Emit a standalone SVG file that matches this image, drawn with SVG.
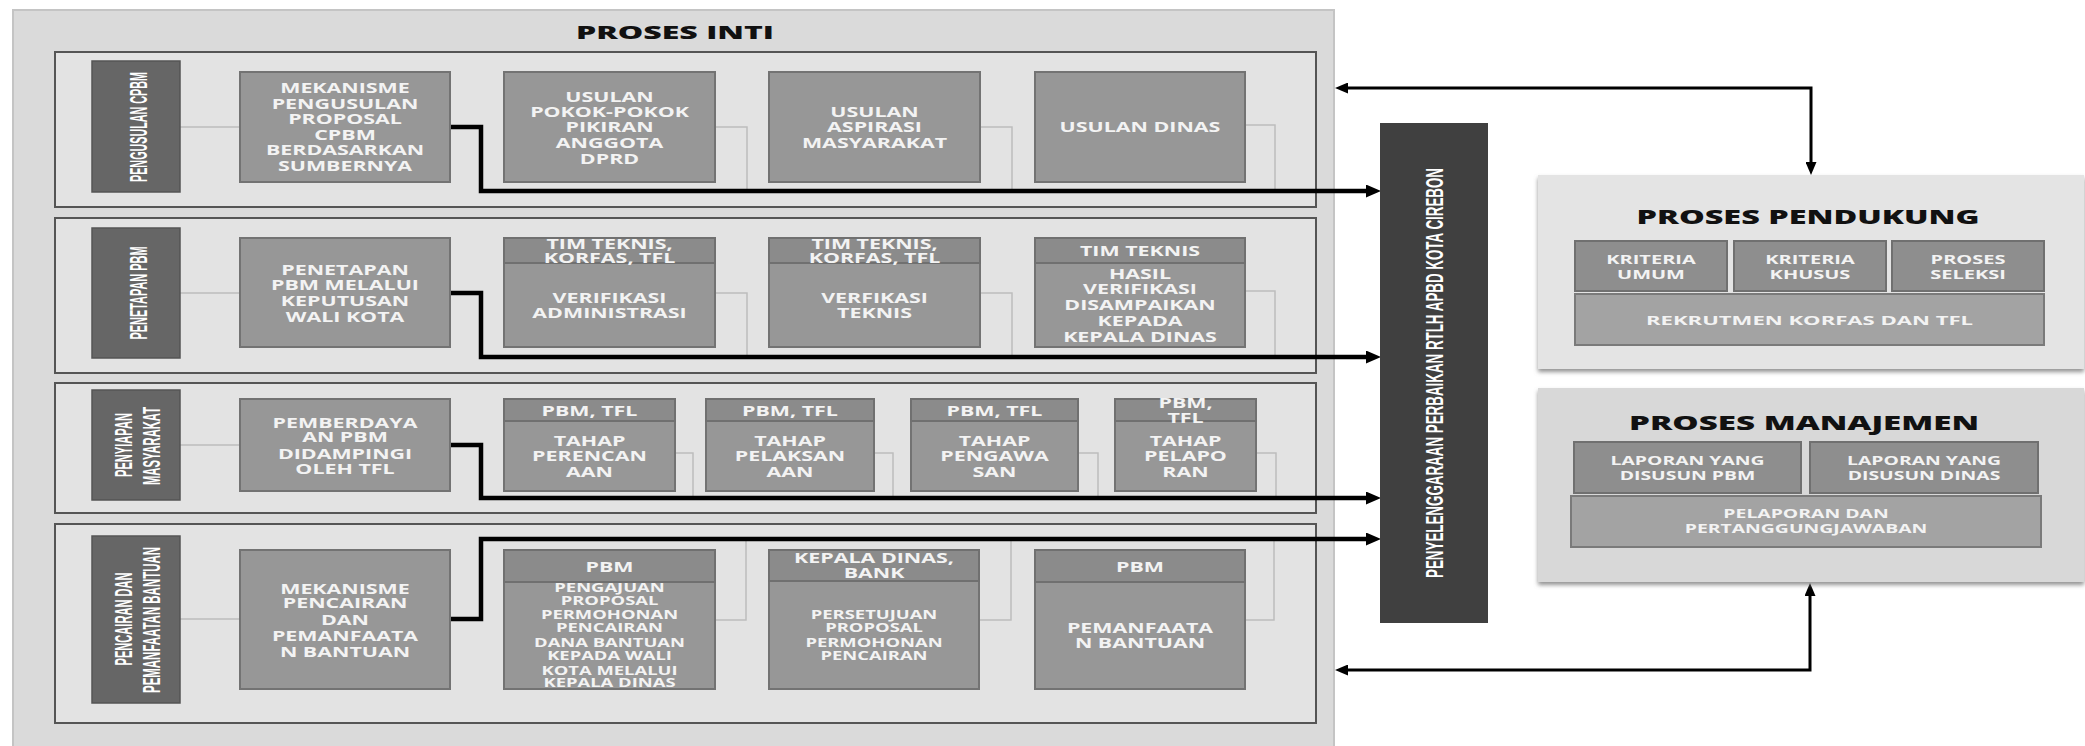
<svg xmlns="http://www.w3.org/2000/svg" width="2085" height="746" viewBox="0 0 2085 746">
<style>
.sec{fill:#e3e3e3;stroke:#555;stroke-width:2}
.lbl{fill:#666;stroke:#555;stroke-width:1.5}
.box{fill:#979797;stroke:#737373;stroke-width:2}
.hdr{fill:#8b8b8b;stroke:#707070;stroke-width:2}
.ibox{fill:#8e8e8e;stroke:#707070;stroke-width:2}
.wbox{fill:#a3a3a3;stroke:#7a7a7a;stroke-width:2}
.bt{font-family:"Open Sans","DejaVu Sans",sans-serif;font-weight:700;font-size:14px;fill:#f3f3f3;text-anchor:middle}
.bs{font-size:11.5px}
.it{font-family:"Open Sans","DejaVu Sans",sans-serif;font-weight:700;font-size:12.5px;fill:#f3f3f3;text-anchor:middle}
.lab{font-family:"Liberation Sans Narrow","Liberation Sans",sans-serif;font-weight:700;font-size:24px;fill:#fff;text-anchor:middle;dominant-baseline:central}
.ttl{font-family:"Open Sans","DejaVu Sans",sans-serif;font-weight:800;fill:#111;text-anchor:middle}
.thin{fill:none;stroke:#bdbdbd;stroke-width:1.5}
.thick{fill:none;stroke:#000;stroke-width:4.5}
.side{fill:none;stroke:#000;stroke-width:3}
</style>
<defs>
<marker id="ah" markerUnits="userSpaceOnUse" markerWidth="15" markerHeight="13" refX="4" refY="6.5" orient="auto"><path d="M0,0 L15,6.5 L0,13 z" fill="#000"/></marker>
<marker id="ah2" markerUnits="userSpaceOnUse" markerWidth="13" markerHeight="11" refX="3" refY="5.5" orient="auto-start-reverse"><path d="M0,0 L13,5.5 L0,11 z" fill="#000"/></marker>
<filter id="sh" x="-5%" y="-5%" width="110%" height="115%"><feDropShadow dx="0" dy="3" stdDeviation="2" flood-color="#777" flood-opacity="0.8"/></filter>
</defs>

<g id="proses-inti">
<rect x="13" y="10" width="1321" height="740" fill="#dadada" stroke="#c4c4c4" stroke-width="2"/>
<text class="ttl" x="675" y="39" font-size="18" textLength="198" lengthAdjust="spacingAndGlyphs">PROSES INTI</text>
</g>

<g id="sections">
<rect class="sec" x="55" y="52" width="1261" height="155"/>
<rect class="sec" x="55" y="218" width="1261" height="155"/>
<rect class="sec" x="55" y="383" width="1261" height="130"/>
<rect class="sec" x="55" y="524" width="1261" height="199"/>
</g>

<g id="connectors">
<path class="thin" d="M180,127 H240 M715,127 H747 V191 M980,127 H1012 V191 M1245,125 H1275 V191"/>
<path class="thin" d="M180,293 H240 M715,293 H747 V357 M980,293 H1012 V357 M1245,291 H1275 V357"/>
<path class="thin" d="M180,445 H240 M675,453 H693 V498 M874,453 H893 V498 M1078,453 H1098 V498 M1256,453 H1276 V498"/>
<path class="thin" d="M180,619 H240 M715,620 H746 V539 M979,620 H1011 V539 M1245,620 H1274 V539"/>
<path class="thick" d="M450,127 H481 V191 H1370" marker-end="url(#ah)"/>
<path class="thick" d="M450,293 H481 V357 H1370" marker-end="url(#ah)"/>
<path class="thick" d="M450,445 H481 V498 H1370" marker-end="url(#ah)"/>
<path class="thick" d="M450,619 H481 V539 H1370" marker-end="url(#ah)"/>
<path class="side" d="M1345,88 H1811 V165" marker-start="url(#ah2)" marker-end="url(#ah2)"/>
<path class="side" d="M1345,670 H1810 V593" marker-start="url(#ah2)" marker-end="url(#ah2)"/>
</g>

<g id="label-pengusulan">
<rect class="lbl" x="92" y="61" width="88" height="131"/>
<text class="lab" transform="translate(138,127) rotate(-90)" textLength="110" lengthAdjust="spacingAndGlyphs">PENGUSULAN CPBM</text>
</g>
<g id="label-penetapan">
<rect class="lbl" x="92" y="228" width="88" height="130"/>
<text class="lab" transform="translate(138,293) rotate(-90)" textLength="93" lengthAdjust="spacingAndGlyphs">PENETAPAN PBM</text>
</g>
<g id="label-penyiapan">
<rect class="lbl" x="92" y="390" width="88" height="110"/>
<text class="lab" transform="translate(123,445) rotate(-90)" textLength="64" lengthAdjust="spacingAndGlyphs">PENYIAPAN</text>
<text class="lab" transform="translate(151,446) rotate(-90)" textLength="78" lengthAdjust="spacingAndGlyphs">MASYARAKAT</text>
</g>
<g id="label-pencairan">
<rect class="lbl" x="92" y="536" width="88" height="167"/>
<text class="lab" transform="translate(123,619) rotate(-90)" textLength="93" lengthAdjust="spacingAndGlyphs">PENCAIRAN DAN</text>
<text class="lab" transform="translate(151,620) rotate(-90)" textLength="146" lengthAdjust="spacingAndGlyphs">PEMANFAATAN BANTUAN</text>
</g>

<!-- Row 1 -->
<g id="mekanisme-pengusulan">
<rect class="box" x="240" y="72" width="210" height="110"/>
<text class="bt" transform="translate(345,0) scale(1.53,1)"><tspan x="0" y="93">MEKANISME</tspan><tspan x="0" y="108.6">PENGUSULAN</tspan><tspan x="0" y="124.2">PROPOSAL</tspan><tspan x="0" y="139.8">CPBM</tspan><tspan x="0" y="155.4">BERDASARKAN</tspan><tspan x="0" y="171">SUMBERNYA</tspan></text>
</g>
<g id="usulan-pokok">
<rect class="box" x="504" y="72" width="211" height="110"/>
<text class="bt" transform="translate(609.5,0) scale(1.53,1)"><tspan x="0" y="102">USULAN</tspan><tspan x="0" y="117">POKOK-POKOK</tspan><tspan x="0" y="132.5">PIKIRAN</tspan><tspan x="0" y="148">ANGGOTA</tspan><tspan x="0" y="164">DPRD</tspan></text>
</g>
<g id="usulan-aspirasi">
<rect class="box" x="769" y="72" width="211" height="110"/>
<text class="bt" transform="translate(874.5,0) scale(1.53,1)"><tspan x="0" y="117">USULAN</tspan><tspan x="0" y="132">ASPIRASI</tspan><tspan x="0" y="148">MASYARAKAT</tspan></text>
</g>
<g id="usulan-dinas">
<rect class="box" x="1035" y="72" width="210" height="110"/>
<text class="bt" transform="translate(1140,0) scale(1.53,1)"><tspan x="0" y="132">USULAN DINAS</tspan></text>
</g>

<!-- Row 2 -->
<g id="penetapan-pbm">
<rect class="box" x="240" y="238" width="210" height="109"/>
<text class="bt" transform="translate(345,0) scale(1.53,1)"><tspan x="0" y="275">PENETAPAN</tspan><tspan x="0" y="290">PBM MELALUI</tspan><tspan x="0" y="306.5">KEPUTUSAN</tspan><tspan x="0" y="322">WALI KOTA</tspan></text>
</g>
<g id="verifikasi-administrasi">
<rect class="box" x="504" y="238" width="211" height="109"/>
<rect class="hdr" x="504" y="238" width="211" height="25"/>
<text class="bt" transform="translate(609.5,0) scale(1.53,1)"><tspan x="0" y="249">TIM TEKNIS,</tspan><tspan x="0" y="263">KORFAS, TFL</tspan><tspan x="0" y="303">VERIFIKASI</tspan><tspan x="0" y="318">ADMINISTRASI</tspan></text>
</g>
<g id="verifikasi-teknis">
<rect class="box" x="769" y="238" width="211" height="109"/>
<rect class="hdr" x="769" y="238" width="211" height="25"/>
<text class="bt" transform="translate(874.5,0) scale(1.53,1)"><tspan x="0" y="249">TIM TEKNIS,</tspan><tspan x="0" y="263">KORFAS, TFL</tspan><tspan x="0" y="303">VERFIKASI</tspan><tspan x="0" y="318">TEKNIS</tspan></text>
</g>
<g id="hasil-verifikasi">
<rect class="box" x="1035" y="238" width="210" height="109"/>
<rect class="hdr" x="1035" y="238" width="210" height="25"/>
<text class="bt" transform="translate(1140,0) scale(1.53,1)"><tspan x="0" y="256">TIM TEKNIS</tspan><tspan x="0" y="279">HASIL</tspan><tspan x="0" y="294">VERIFIKASI</tspan><tspan x="0" y="310.5">DISAMPAIKAN</tspan><tspan x="0" y="326">KEPADA</tspan><tspan x="0" y="342">KEPALA DINAS</tspan></text>
</g>

<!-- Row 3 -->
<g id="pemberdayaan-pbm">
<rect class="box" x="240" y="399" width="210" height="92"/>
<text class="bt" transform="translate(345,0) scale(1.53,1)"><tspan x="0" y="428">PEMBERDAYA</tspan><tspan x="0" y="442">AN PBM</tspan><tspan x="0" y="459">DIDAMPINGI</tspan><tspan x="0" y="474">OLEH TFL</tspan></text>
</g>
<g id="tahap-perencanaan">
<rect class="box" x="504" y="399" width="171" height="92"/>
<rect class="hdr" x="504" y="399" width="171" height="22"/>
<text class="bt" transform="translate(589.5,0) scale(1.53,1)"><tspan x="0" y="416">PBM, TFL</tspan><tspan x="0" y="446">TAHAP</tspan><tspan x="0" y="461">PERENCAN</tspan><tspan x="0" y="477">AAN</tspan></text>
</g>
<g id="tahap-pelaksanaan">
<rect class="box" x="706" y="399" width="168" height="92"/>
<rect class="hdr" x="706" y="399" width="168" height="22"/>
<text class="bt" transform="translate(790,0) scale(1.53,1)"><tspan x="0" y="416">PBM, TFL</tspan><tspan x="0" y="446">TAHAP</tspan><tspan x="0" y="461">PELAKSAN</tspan><tspan x="0" y="477">AAN</tspan></text>
</g>
<g id="tahap-pengawasan">
<rect class="box" x="911" y="399" width="167" height="92"/>
<rect class="hdr" x="911" y="399" width="167" height="22"/>
<text class="bt" transform="translate(994.5,0) scale(1.53,1)"><tspan x="0" y="416">PBM, TFL</tspan><tspan x="0" y="446">TAHAP</tspan><tspan x="0" y="461">PENGAWA</tspan><tspan x="0" y="477">SAN</tspan></text>
</g>
<g id="tahap-pelaporan">
<rect class="box" x="1115" y="399" width="141" height="92"/>
<rect class="hdr" x="1115" y="399" width="141" height="22"/>
<text class="bt" transform="translate(1185.5,0) scale(1.53,1)"><tspan x="0" y="408">PBM,</tspan><tspan x="0" y="423">TFL</tspan><tspan x="0" y="446">TAHAP</tspan><tspan x="0" y="461">PELAPO</tspan><tspan x="0" y="477">RAN</tspan></text>
</g>

<!-- Row 4 -->
<g id="mekanisme-pencairan">
<rect class="box" x="240" y="550" width="210" height="139"/>
<text class="bt" transform="translate(345,0) scale(1.53,1)"><tspan x="0" y="594">MEKANISME</tspan><tspan x="0" y="608">PENCAIRAN</tspan><tspan x="0" y="625">DAN</tspan><tspan x="0" y="641">PEMANFAATA</tspan><tspan x="0" y="657">N BANTUAN</tspan></text>
</g>
<g id="pengajuan-proposal">
<rect class="box" x="504" y="550" width="211" height="139"/>
<rect class="hdr" x="504" y="550" width="211" height="32"/>
<text class="bt" transform="translate(609.5,0) scale(1.53,1)"><tspan x="0" y="572">PBM</tspan></text>
<text class="bt bs" transform="translate(609.5,0) scale(1.6,1)"><tspan x="0" y="592">PENGAJUAN</tspan><tspan x="0" y="605">PROPOSAL</tspan><tspan x="0" y="619">PERMOHONAN</tspan><tspan x="0" y="632">PENCAIRAN</tspan><tspan x="0" y="647">DANA BANTUAN</tspan><tspan x="0" y="660">KEPADA WALI</tspan><tspan x="0" y="675">KOTA MELALUI</tspan><tspan x="0" y="687">KEPALA DINAS</tspan></text>
</g>
<g id="persetujuan-proposal">
<rect class="box" x="769" y="550" width="210" height="139"/>
<rect class="hdr" x="769" y="550" width="210" height="31"/>
<text class="bt" transform="translate(874,0) scale(1.53,1)"><tspan x="0" y="563">KEPALA DINAS,</tspan><tspan x="0" y="578">BANK</tspan></text>
<text class="bt bs" transform="translate(874,0) scale(1.6,1)"><tspan x="0" y="619">PERSETUJUAN</tspan><tspan x="0" y="632">PROPOSAL</tspan><tspan x="0" y="647">PERMOHONAN</tspan><tspan x="0" y="660">PENCAIRAN</tspan></text>
</g>
<g id="pemanfaatan-bantuan">
<rect class="box" x="1035" y="550" width="210" height="139"/>
<rect class="hdr" x="1035" y="550" width="210" height="32"/>
<text class="bt" transform="translate(1140,0) scale(1.53,1)"><tspan x="0" y="572">PBM</tspan><tspan x="0" y="633">PEMANFAATA</tspan><tspan x="0" y="648">N BANTUAN</tspan></text>
</g>

<g id="penyelenggaraan">
<rect x="1380" y="123" width="108" height="500" fill="#404040"/>
<text class="lab" font-size="32" transform="translate(1434,373) rotate(-90)" textLength="410" lengthAdjust="spacingAndGlyphs">PENYELENGGARAAN PERBAIKAN RTLH APBD KOTA CIREBON</text>
</g>

<g id="proses-pendukung">
<rect x="1538" y="175" width="546" height="194" fill="#e4e4e4" filter="url(#sh)"/>
<text class="ttl" x="1808" y="224" font-size="20" textLength="343" lengthAdjust="spacingAndGlyphs">PROSES PENDUKUNG</text>
<rect class="ibox" x="1575" y="241" width="152" height="50"/>
<rect class="ibox" x="1734" y="241" width="152" height="50"/>
<rect class="ibox" x="1892" y="241" width="152" height="50"/>
<rect class="wbox" x="1575" y="294" width="469" height="51"/>
<text class="it" transform="translate(1651,0) scale(1.6,1)"><tspan x="0" y="264">KRITERIA</tspan><tspan x="0" y="279">UMUM</tspan></text>
<text class="it" transform="translate(1810,0) scale(1.6,1)"><tspan x="0" y="264">KRITERIA</tspan><tspan x="0" y="279">KHUSUS</tspan></text>
<text class="it" transform="translate(1968,0) scale(1.6,1)"><tspan x="0" y="264">PROSES</tspan><tspan x="0" y="279">SELEKSI</tspan></text>
<text class="it" x="1809.5" y="325" textLength="327" lengthAdjust="spacingAndGlyphs">REKRUTMEN KORFAS DAN TFL</text>
</g>

<g id="proses-manajemen">
<rect x="1538" y="388" width="546" height="194" fill="#d8d8d8" filter="url(#sh)"/>
<text class="ttl" x="1804" y="430" font-size="20" textLength="350" lengthAdjust="spacingAndGlyphs">PROSES MANAJEMEN</text>
<rect class="ibox" x="1574" y="442" width="227" height="51"/>
<rect class="ibox" x="1810" y="442" width="228" height="51"/>
<rect class="wbox" x="1571" y="496" width="470" height="51"/>
<text class="it" transform="translate(1687.5,0) scale(1.55,1)"><tspan x="0" y="465.5">LAPORAN YANG</tspan><tspan x="0" y="480.5">DISUSUN PBM</tspan></text>
<text class="it" transform="translate(1924,0) scale(1.55,1)"><tspan x="0" y="465.5">LAPORAN YANG</tspan><tspan x="0" y="480.5">DISUSUN DINAS</tspan></text>
<text class="it" transform="translate(1806,0) scale(1.55,1)"><tspan x="0" y="518.5">PELAPORAN DAN</tspan><tspan x="0" y="533.5">PERTANGGUNGJAWABAN</tspan></text>
</g>
</svg>
